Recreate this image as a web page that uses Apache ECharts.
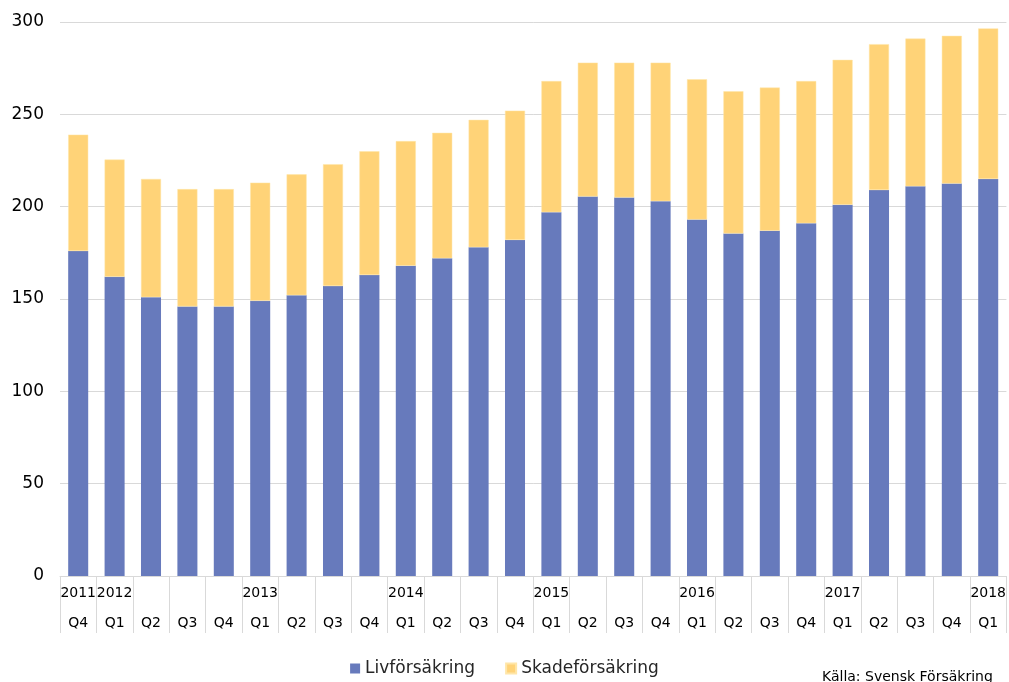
<!DOCTYPE html>
<html>
<head>
<meta charset="utf-8">
<script src="https://cdn.jsdelivr.net/npm/echarts@6/dist/echarts.min.js"></script>
<style>
html,body{margin:0;padding:0;background:#fff;}
#chart{width:1009px;height:682px;}
</style>
</head>
<body>
<div id="chart"></div>
<script>
const categories = ['2011 Q4','2012 Q1','2012 Q2','2012 Q3','2012 Q4','2013 Q1','2013 Q2','2013 Q3','2013 Q4','2014 Q1','2014 Q2','2014 Q3','2014 Q4','2015 Q1','2015 Q2','2015 Q3','2015 Q4','2016 Q1','2016 Q2','2016 Q3','2016 Q4','2017 Q1','2017 Q2','2017 Q3','2017 Q4','2018 Q1'];
const yearLabels = ['2011','2012','','','','2013','','','','2014','','','','2015','','','','2016','','','','2017','','','','2018'];
const quarterLabels = ['Q4','Q1','Q2','Q3','Q4','Q1','Q2','Q3','Q4','Q1','Q2','Q3','Q4','Q1','Q2','Q3','Q4','Q1','Q2','Q3','Q4','Q1','Q2','Q3','Q4','Q1'];
const livforsakring = [176, 162, 151, 146, 146, 149, 152, 157, 163, 168, 172, 178, 182, 197, 205.5, 205, 203, 193, 185.5, 187, 191, 201, 209, 211, 212.5, 215];
const skadeforsakring = [63, 63.5, 64, 63.5, 63.5, 64, 65.5, 66, 67, 67.5, 68, 69, 70, 71, 72.5, 73, 75, 76, 77, 77.5, 77, 78.5, 79, 80, 80, 81.5];
const yTicks = [0, 50, 100, 150, 200, 250, 300];

const chart = echarts.init(document.getElementById('chart'));
const font = 'DejaVu Sans, Verdana, sans-serif';
chart.setOption({
  animation: false,
  backgroundColor: '#ffffff',
  grid: {left: 60, right: 1, top: 22, bottom: 106, containLabel: false},
  legend: {
    data: ['Livförsäkring', 'Skadeförsäkring'],
    left: 'center', top: 655,
    icon: 'rect', itemWidth: 10, itemHeight: 10, itemGap: 30,
    textStyle: {fontFamily: font, fontSize: 17, color: '#262626'}
  },
  xAxis: {
    type: 'category',
    data: categories,
    axisLine: {show: true, lineStyle: {color: '#d9d9d9', width: 1}},
    axisTick: {show: true, interval: 0, length: 57, lineStyle: {color: '#d9d9d9', width: 1}},
    axisLabel: {
      interval: 0, margin: 2,
      formatter: function (v, i) { return '{y|' + yearLabels[i] + '}\n{q|' + quarterLabels[i] + '}'; },
      rich: {
        y: {fontFamily: font, fontSize: 14, color: '#000', lineHeight: 30, height: 30},
        q: {fontFamily: font, fontSize: 14, color: '#000', lineHeight: 30, height: 30}
      }
    }
  },
  yAxis: {
    type: 'value', min: 0, max: 300, interval: 50,
    axisLine: {show: false}, axisTick: {show: false},
    splitLine: {lineStyle: {color: '#d9d9d9', width: 1}},
    axisLabel: {
      margin: 16, fontFamily: font, fontSize: 17, color: '#000',
      formatter: function (v) { return yTicks.indexOf(v) >= 0 ? String(v) : ''; }
    }
  },
  graphic: [{
    type: 'text', left: 822, top: 670,
    style: {text: 'Källa: Svensk Försäkring', font: '14px ' + font, fill: '#000'}
  }],
  series: [
    {name: 'Livförsäkring', type: 'bar', stack: 'total', data: livforsakring, barWidth: '55%',
     itemStyle: {color: '#677abc'}},
    {name: 'Skadeförsäkring', type: 'bar', stack: 'total', data: skadeforsakring, barWidth: '55%',
     itemStyle: {color: '#ffd378', borderColor: '#ffe6a8', borderWidth: 0.5}}
  ]
});
</script>
</body>
</html>
